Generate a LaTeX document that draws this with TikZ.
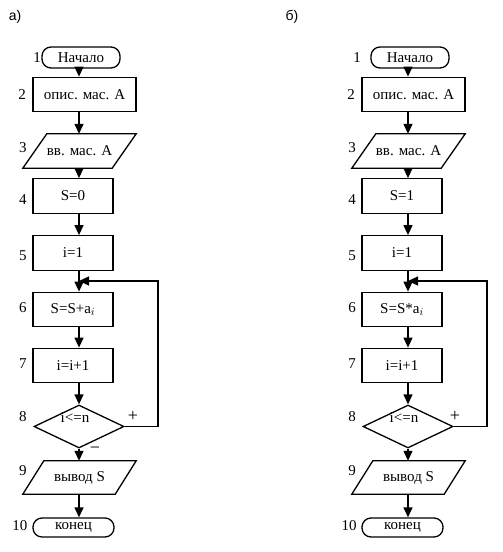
\documentclass[tikz,border=0pt]{standalone}
\usepackage{fontspec}
\setmainfont{Liberation Serif}
\newfontfamily\labfont{Liberation Sans}
\usetikzlibrary{shapes.geometric,arrows.meta}
\tikzset{
  x=1pt,y=-1pt,
  txt/.style={font=\fontsize{15}{17}\selectfont,inner sep=0pt},
  sgn/.style={font=\fontsize{18}{20}\selectfont,inner sep=0pt},
  blk/.style={txt,draw,line width=1.3pt},
  boxx/.style={blk,rectangle,minimum width=#1,minimum height=34.5pt},
  term/.style={blk,rectangle,rounded corners=9pt},
  iob/.style={txt,rectangle,minimum height=#1},
  dec/.style={draw,line width=1.3pt,diamond,inner sep=0pt,minimum width=90pt,minimum height=43pt},
  num/.style={txt},
  arr/.style={line width=1.3pt,-{Triangle[length=10pt,width=9pt]}},
  lin/.style={line width=1.3pt,line join=miter},
}
% #1 prefix, #2 xshift, #3 x of label 1, #4 init text, #5 body text, #6 plus x
\newcommand\flowcol[6]{%
\begin{scope}[xshift=#2]
  \coordinate (#1col) at (79,0);
  \coordinate (#1loop) at (158,0);
  \coordinate (#1join) at (79,281);
  \node[term,minimum width=78pt,minimum height=21pt] (#1s1) at (81,57.5) {Начало};
  \node[boxx=103pt] (#1b2) at (84.5,94.5) {опис. мас. А};
  \node[iob=34pt,minimum width=89pt] (#1p3) at (79.5,151) {вв. мас. А};
  \draw[lin] ([xshift=12pt]#1p3.north west) -- ([xshift=12pt]#1p3.north east)
     -- ([xshift=-12pt]#1p3.south east) -- ([xshift=-12pt]#1p3.south west) -- cycle;
  \node[boxx=80pt] (#1b4) at (73,196) {#4};
  \node[boxx=80pt] (#1b5) at (73,253) {i=1};
  \node[boxx=80pt] (#1b6) at (73,309.5) {#5};
  \node[boxx=80pt] (#1b7) at (73,365.5) {i=i+1};
  \node[dec] (#1d8) at (79,426.5) {};
  \node[txt] (#1d8t) at (75,418) {i<=n};
  \node[iob=33pt,minimum width=92pt] (#1p9) at (79.5,477.5) {вывод S};
  \draw[lin] ([xshift=10.5pt]#1p9.north west) -- ([xshift=10.5pt]#1p9.north east)
     -- ([xshift=-10.5pt]#1p9.south east) -- ([xshift=-10.5pt]#1p9.south west) -- cycle;
  \node[term,minimum width=81pt,minimum height=19pt] (#1t10) at (73.5,527.5) {конец};
  % numbers
  \node[num] (#1n1) at (#3,58) {1};
  \node[num] (#1n2) at (22,95) {2};
  \node[num] (#1n3) at (23,148) {3};
  \node[num] (#1n4) at (23,200) {4};
  \node[num] (#1n5) at (23,256) {5};
  \node[num] (#1n6) at (23,308) {6};
  \node[num] (#1n7) at (23,364) {7};
  \node[num] (#1n8) at (23,417) {8};
  \node[num] (#1n9) at (23,471) {9};
  \node[num] (#1n10) at (20,526) {10};
  % arrows
  \draw[arr] (#1s1.south -| #1col) -- (#1b2.north -| #1col);
  \draw[arr] (#1b2.south -| #1col) -- (#1p3.north -| #1col);
  \draw[arr] (#1p3.south -| #1col) -- (#1b4.north -| #1col);
  \draw[arr] (#1b4.south -| #1col) -- (#1b5.north -| #1col);
  \draw[arr] (#1b5.south -| #1col) -- (#1b6.north -| #1col);
  \draw[arr] (#1b6.south -| #1col) -- (#1b7.north -| #1col);
  \draw[arr] (#1b7.south -| #1col) -- (#1d8.north);
  \draw[arr] (#1d8.south) -- (#1p9.north -| #1col);
  \draw[arr] (#1p9.south -| #1col) -- (#1t10.north -| #1col);
  \draw[arr] (#1d8.east) -- (#1d8.east -| #1loop) |- (#1join);
  \node[sgn] (#1plus) at (#6,416) {+};
\end{scope}}
\begin{document}
\begin{tikzpicture}
  \useasboundingbox[fill=white] (0,0) rectangle (503,552);
  \node[txt,font=\labfont\fontsize{14}{16}\selectfont] (la) at (15,17) {а)};
  \node[txt,font=\labfont\fontsize{14}{16}\selectfont] (lb) at (292,17) {б)};
  \flowcol{L}{0pt}{37}{S=0}{S=S+a$_i$}{133}
  \flowcol{R}{329pt}{28}{S=1}{S=S*a$_i$}{126}
  \node[sgn] (Lminus) at (95,450) {−};
\end{tikzpicture}
\end{document}
